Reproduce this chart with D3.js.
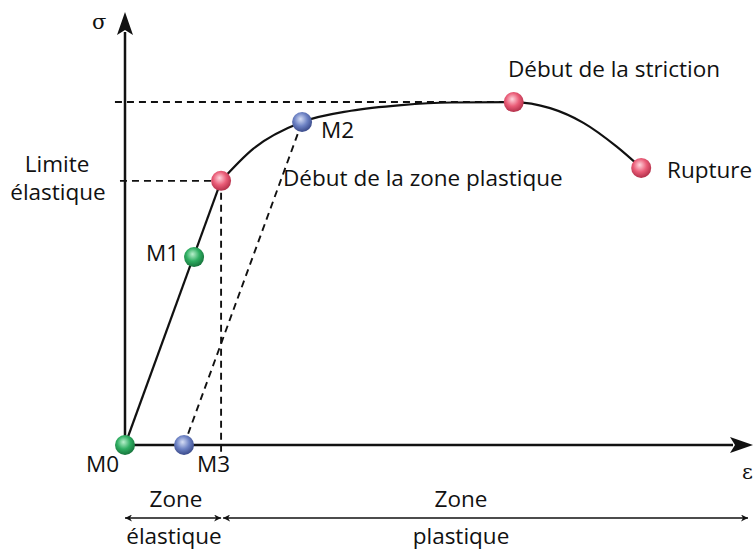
<!DOCTYPE html>
<html>
<head>
<meta charset="utf-8">
<script src="https://cdn.jsdelivr.net/npm/d3@7"></script>
<style>
  body { margin: 0; background: #fff; }
  svg text { font-family: "Open Sans", "Noto Sans", sans-serif; font-size: 22.5px; fill: #111; }
</style>
</head>
<body>
<svg id="chart" width="753" height="551"></svg>
<script>
// strain / stress, in percent of the axis length
const curveEps   = [15.3, 20.4, 28.2, 36, 44, 52, 61.9, 67.7, 73.0, 78.3, 82.2];
const curveSigma = [61.0, 68.4, 74.6, 77.2, 78.5, 79.1, 79.2, 77.8, 74.4, 68.9, 64.0];

const pointNames = ["M0", "M1", "Limite", "M2", "Striction", "Rupture", "M3"];
const pointEps   = [0, 11.0, 15.3, 28.2, 61.9, 82.2, 9.4];
const pointSigma = [0, 43.4, 61.0, 74.6, 79.2, 64.0, 0];
const pointColor = ["green", "green", "red", "blue", "red", "red", "blue"];

const colors = {
  green: ["#b8f0cc", "#2fae62", "#17743c"],
  red:   ["#ffd6de", "#ea5d78", "#b3304a"],
  blue:  ["#d6def5", "#6d82c4", "#3a4a8a"]
};

const svg = d3.select("#chart");
const x = d3.scaleLinear().domain([0, 100]).range([125, 753]);
const y = d3.scaleLinear().domain([0, 100]).range([445, 12]);

// gradients for the balls
const defs = svg.append("defs");
Object.keys(colors).forEach(k => {
  const g = defs.append("radialGradient").attr("id", "g-" + k)
    .attr("cx", "45%").attr("cy", "40%").attr("r", "60%").attr("fx", "42%").attr("fy", "35%");
  g.append("stop").attr("offset", "0%").attr("stop-color", colors[k][0]);
  g.append("stop").attr("offset", "55%").attr("stop-color", colors[k][1]);
  g.append("stop").attr("offset", "100%").attr("stop-color", colors[k][2]);
});
defs.append("marker").attr("id", "head").attr("viewBox", "0 0 10 10")
  .attr("refX", 10).attr("refY", 5).attr("markerWidth", 7).attr("markerHeight", 7)
  .attr("markerUnits", "userSpaceOnUse").attr("orient", "auto-start-reverse")
  .append("path").attr("d", "M0,0 L10,5 L0,10 L3,5 Z").attr("fill", "#111");

const line = d3.line().x(d => x(d[0])).y(d => y(d[1]));
const P = i => [pointEps[i], pointSigma[i]];

// dashed guides
const dashed = (pts) => svg.append("path").attr("d", line(pts))
  .attr("fill", "none").attr("stroke", "#111").attr("stroke-width", 1.9).attr("stroke-dasharray", "7,5");
dashed([[-1.6, pointSigma[4]], P(4)]);
dashed([[-0.8, pointSigma[2]], P(2)]);
dashed([P(2), [pointEps[2], -2.3]]);
dashed([P(6), P(3)]);

// axes
svg.append("line").attr("x1", x(0)).attr("y1", y(0)).attr("x2", x(0)).attr("y2", 32)
  .attr("stroke", "#111").attr("stroke-width", 2.5);
svg.append("path").attr("d", `M${x(0)},12 L${x(0) + 8},35 L${x(0)},30 L${x(0) - 8},35 Z`).attr("fill", "#111");
svg.append("line").attr("x1", x(0)).attr("y1", y(0)).attr("x2", 733).attr("y2", y(0))
  .attr("stroke", "#111").attr("stroke-width", 2.5);
svg.append("path").attr("d", `M753,${y(0)} L730,${y(0) - 8} L735,${y(0)} L730,${y(0) + 8} Z`).attr("fill", "#111");

svg.append("text").attr("x", 92).attr("y", 29).style("font-family", "DejaVu Serif").style("font-size", "21px").text("σ");
svg.append("text").attr("x", 742).attr("y", 479).style("font-family", "DejaVu Serif").style("font-size", "21px").text("ε");

// stress-strain curve
svg.append("path").attr("d", line([P(0), P(2)]))
  .attr("fill", "none").attr("stroke", "#111").attr("stroke-width", 2.2);
svg.append("path").attr("d", line.curve(d3.curveMonotoneX)(curveEps.map((e, i) => [e, curveSigma[i]])))
  .attr("fill", "none").attr("stroke", "#111").attr("stroke-width", 2.2);

// points
svg.selectAll("circle.pt").data(pointNames).join("circle").attr("class", "pt")
  .attr("cx", (d, i) => x(pointEps[i])).attr("cy", (d, i) => y(pointSigma[i]))
  .attr("r", 10).attr("fill", (d, i) => `url(#g-${pointColor[i]})`);

// labels
const label = (t, px, py, anchor) => svg.append("text").attr("x", px).attr("y", py)
  .attr("text-anchor", anchor || "start").text(t);
label("M0", 86, 472);
label("M3", 197, 472);
label("M1", 146, 261);
label("M2", 321, 138);
label("Limite", 57, 172, "middle");
label("élastique", 58, 200, "middle");
label("Début de la zone plastique", 283, 186);
label("Rupture", 667, 178);
label("Début de la striction", 508, 77);

// zone arrows
const zoneY = 518;
svg.append("line").attr("x1", x(0)).attr("x2", x(pointEps[2])).attr("y1", zoneY).attr("y2", zoneY)
  .attr("stroke", "#111").attr("stroke-width", 1.3)
  .attr("marker-start", "url(#head)").attr("marker-end", "url(#head)");
svg.append("line").attr("x1", x(pointEps[2]) + 2).attr("x2", 748).attr("y1", zoneY).attr("y2", zoneY)
  .attr("stroke", "#111").attr("stroke-width", 1.3)
  .attr("marker-start", "url(#head)").attr("marker-end", "url(#head)");
label("Zone", 176, 507, "middle");
label("élastique", 174, 544, "middle");
label("Zone", 461, 507, "middle");
label("plastique", 461, 544, "middle");
</script>
</body>
</html>
